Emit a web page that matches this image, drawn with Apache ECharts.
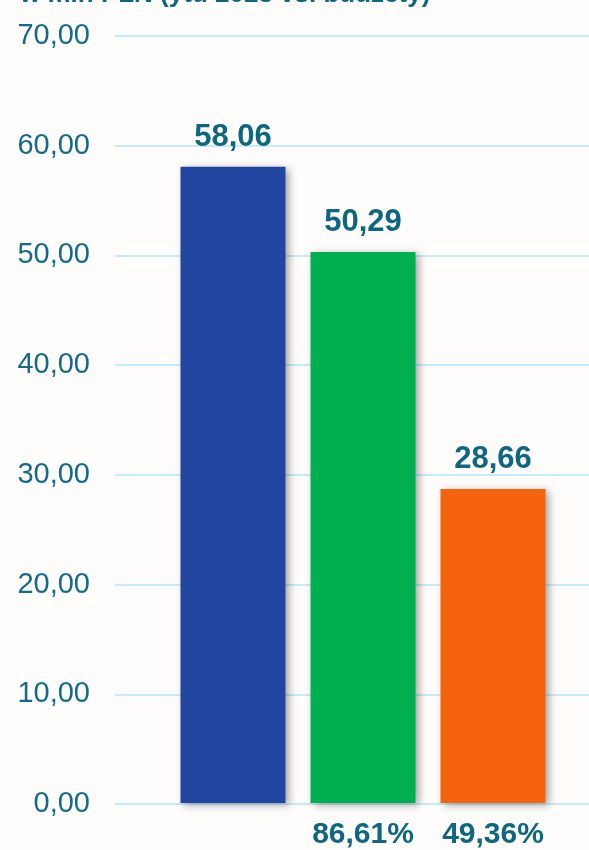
<!DOCTYPE html>
<html>
<head>
<meta charset="utf-8">
<script src="https://cdn.jsdelivr.net/npm/echarts@6/dist/echarts.min.js"></script>
<style>
html, body {margin: 0; padding: 0; background: #fefdfc;}
#chart {width: 589px; height: 850px;}
</style>
</head>
<body>
<div id="chart"></div>
<script>
var categories = ['', '86,61%', '49,36%'];
var values = [58.06, 50.29, 28.66];
var barColors = ['#2145a0', '#00b050', '#f5640c'];
var yMin = 0, yMax = 70, yStep = 10;

var chart = echarts.init(document.getElementById('chart'));

function fmt(v) {
    return v.toFixed(2).replace('.', ',');
}

var option = {
    backgroundColor: '#fefdfc',
    animation: false,
    graphic: [{
        type: 'text',
        left: 20,
        top: -18,
        style: {
            text: 'w mln PLN (ytd 2023 vs. budżety)',
            font: 'bold 26px "Liberation Sans", Arial, sans-serif',
            fill: '#0e6680'
        }
    }],
    grid: [
        {left: 115, right: 0, top: 36, bottom: 46},
        {left: 168, right: 31, top: 36, bottom: 46}
    ],
    xAxis: [
        {gridIndex: 0, type: 'category', data: categories, show: false},
        {
            gridIndex: 1, type: 'category', data: categories,
            axisLine: {show: false}, axisTick: {show: false},
            axisLabel: {
                interval: 0,
                margin: 17,
                color: '#0e6680',
                fontSize: 30,
                fontWeight: 'bold',
                fontFamily: '"Liberation Sans", Arial, sans-serif'
            }
        }
    ],
    yAxis: [
        {
            gridIndex: 0, type: 'value', min: yMin, max: yMax, interval: yStep,
            axisLine: {show: false}, axisTick: {show: false},
            splitLine: {lineStyle: {color: '#c6ecf9', width: 2}},
            axisLabel: {
                margin: 25,
                color: '#156a88',
                fontSize: 29,
                fontFamily: '"Liberation Sans", Arial, sans-serif',
                formatter: function (v) { return fmt(v); }
            }
        },
        {
            gridIndex: 1, type: 'value', min: yMin, max: yMax, interval: yStep,
            show: false, splitLine: {show: false}
        }
    ],
    series: [{
        type: 'bar',
        xAxisIndex: 1,
        yAxisIndex: 1,
        barWidth: 105,
        data: values.map(function (v, i) {
            return {value: v, itemStyle: {color: barColors[i]}};
        }),
        itemStyle: {
            shadowBlur: 8,
            shadowOffsetX: 3,
            shadowOffsetY: 2,
            shadowColor: 'rgba(0,0,0,0.35)'
        },
        label: {
            show: true,
            position: 'top',
            distance: 14,
            color: '#0e6680',
            fontSize: 31,
            fontWeight: 'bold',
            fontFamily: '"Liberation Sans", Arial, sans-serif',
            formatter: function (p) { return fmt(p.value); }
        }
    }]
};
chart.setOption(option);
</script>
</body>
</html>
